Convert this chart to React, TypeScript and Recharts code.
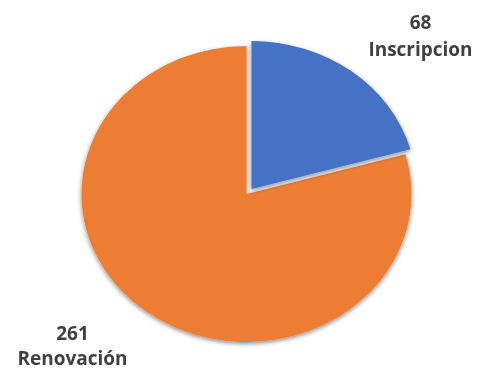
import { PieChart, Pie, Cell } from 'recharts'

const categories = ['Inscripcion', 'Renovación']
const values = [68, 261]
const COLORS = ['#4472C4', '#ED7D31']

const data = categories.map((name, i) => ({ name, value: values[i] }))

// the reference pie is a bit squashed vertically
const SY = 148 / 165
// body keeps its 8px margin, so the drawing area is 472 x 364
const W = 472
const H = 364

const RAD = Math.PI / 180

const renderLabel = (props: any) => {
  const { cx, cy, midAngle, index, value, name } = props
  const c = Math.cos(-midAngle * RAD)
  const s = Math.sin(-midAngle * RAD)
  const lx = cx + Math.sign(c) * 174
  // baselines in screen pixels, measured from the pie centre
  const [y1, y2] = s < 0 ? [-165, -138] : [146, 171]
  return (
    <g key={`lbl-${index}`} transform={`translate(${lx},${cy}) scale(1,${1 / SY})`}>
      <text
        textAnchor="middle"
        fill="#404040"
        fontFamily="'Open Sans', sans-serif"
        fontWeight="bold"
        fontSize={19}
      >
        <tspan x={0} y={y1}>{value}</tspan>
        <tspan x={0} y={y2}>{name}</tspan>
      </text>
    </g>
  )
}

export default function App() {
  const cx = 238.5
  const cy = 186 / SY
  return (
    <div style={{ width: W, height: H, background: '#fff' }}>
      <style>{'.recharts-surface { overflow: visible; }'}</style>
      <div style={{ transform: `scaleY(${SY})`, transformOrigin: '0 0' }}>
        <PieChart width={W} height={H / SY} margin={{ top: 0, right: 0, bottom: 0, left: 0 }}>
          <defs>
            <filter id="sh" x="-20%" y="-20%" width="140%" height="140%">
              <feDropShadow dx="0" dy="2" stdDeviation="2.5" floodColor="#000" floodOpacity="0.45" />
            </filter>
          </defs>
          <Pie
            data={data}
            dataKey="value"
            nameKey="name"
            cx={cx}
            cy={cy}
            outerRadius={165}
            startAngle={90}
            endAngle={-270}
            stroke="none"
            label={renderLabel}
            labelLine={false}
            isAnimationActive={false}
          >
            {data.map((_, i) => (
              <Cell key={i} fill={i === 0 ? 'none' : COLORS[i]} stroke="none" filter={i === 0 ? undefined : 'url(#sh)'} />
            ))}
          </Pie>
          {/* exploded slice */}
          <Pie
            data={data}
            dataKey="value"
            nameKey="name"
            cx={cx + 5}
            cy={cy - 5.6}
            outerRadius={165}
            startAngle={90}
            endAngle={-270}
            stroke="none"
            labelLine={false}
            isAnimationActive={false}
          >
            {data.map((_, i) => (
              <Cell key={i} fill={i === 0 ? COLORS[i] : 'none'} stroke="none" filter={i === 0 ? 'url(#sh)' : undefined} />
            ))}
          </Pie>
        </PieChart>
      </div>
    </div>
  )
}
